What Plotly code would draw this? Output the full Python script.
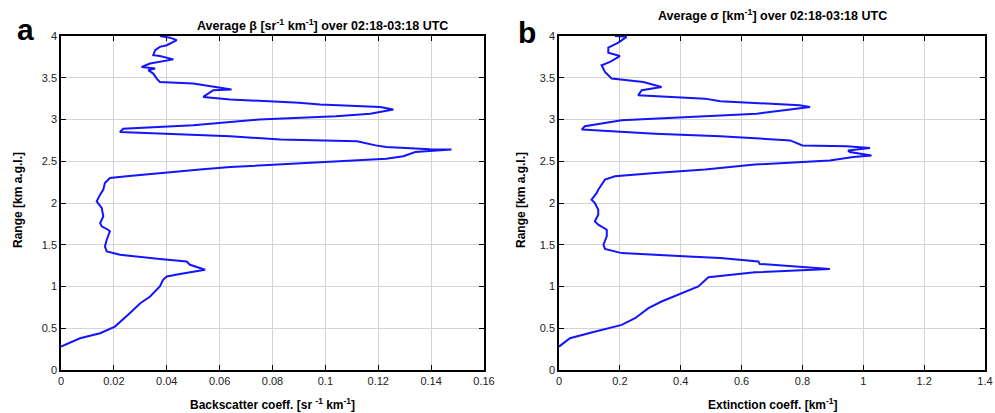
import plotly.graph_objects as go

# Panel a: average backscatter coefficient [sr^-1 km^-1] vs range [km]
beta_x = [0.0, 0.0072, 0.0148, 0.0204, 0.026, 0.030, 0.0337, 0.0374, 0.0386, 0.040, 0.045, 0.0545,
          0.0488, 0.0475, 0.0374, 0.0223, 0.0173, 0.0166, 0.0173, 0.0185, 0.0178, 0.0154, 0.0148,
          0.016, 0.0154, 0.0135, 0.0148, 0.016, 0.0166, 0.0185, 0.0248, 0.0374, 0.0526, 0.064,
          0.1017, 0.123, 0.1295, 0.134, 0.1477, 0.1396, 0.123, 0.119, 0.112, 0.083, 0.064, 0.0223,
          0.0235, 0.05, 0.075, 0.104, 0.117, 0.1257, 0.1207, 0.098, 0.090, 0.064, 0.0538, 0.0576,
          0.0645, 0.055, 0.050, 0.0374, 0.0362, 0.0349, 0.033, 0.0356, 0.0305, 0.0337, 0.0425,
          0.0374, 0.0349, 0.0356, 0.0374, 0.040, 0.0438, 0.0412, 0.0374]
beta_y = [0.28, 0.38, 0.44, 0.52, 0.68, 0.80, 0.88, 1.00, 1.08, 1.12, 1.15, 1.20,
          1.26, 1.30, 1.33, 1.38, 1.42, 1.48, 1.56, 1.66, 1.68, 1.72, 1.76,
          1.84, 1.94, 2.02, 2.10, 2.16, 2.24, 2.30, 2.32, 2.36, 2.40, 2.43,
          2.49, 2.53, 2.56, 2.61, 2.64, 2.645, 2.67, 2.69, 2.74, 2.76, 2.80, 2.85,
          2.89, 2.93, 3.00, 3.04, 3.07, 3.12, 3.15, 3.18, 3.20, 3.24, 3.27, 3.35,
          3.36, 3.41, 3.43, 3.45, 3.49, 3.55, 3.59, 3.61, 3.63, 3.67, 3.72,
          3.76, 3.77, 3.83, 3.87, 3.89, 3.95, 3.98, 4.0]

# Panel b: average extinction coefficient [km^-1] vs range [km]
sigma_x = [0.0, 0.036, 0.107, 0.206, 0.25, 0.294, 0.337, 0.392, 0.458, 0.491, 0.644, 0.89,
           0.66, 0.655, 0.53, 0.425, 0.206, 0.151, 0.146, 0.157, 0.157, 0.129, 0.118, 0.129,
           0.129, 0.118, 0.107, 0.124, 0.129, 0.151, 0.184, 0.315, 0.48, 0.644, 0.89, 0.967,
           1.027, 0.956, 0.95, 1.022, 0.945, 0.80, 0.76, 0.53, 0.315, 0.075, 0.085, 0.206,
           0.425, 0.65, 0.825, 0.79, 0.53, 0.48, 0.26, 0.272, 0.337, 0.294, 0.277, 0.173,
           0.151, 0.140, 0.168, 0.2, 0.162, 0.162, 0.195, 0.222, 0.184]
sigma_y = [0.28, 0.38, 0.45, 0.54, 0.62, 0.74, 0.82, 0.90, 1.00, 1.11, 1.17, 1.21,
           1.27, 1.30, 1.34, 1.36, 1.40, 1.45, 1.50, 1.60, 1.68, 1.74, 1.78, 1.86,
           1.92, 2.00, 2.04, 2.12, 2.16, 2.28, 2.32, 2.36, 2.40, 2.46, 2.51, 2.55,
           2.57, 2.61, 2.63, 2.66, 2.68, 2.69, 2.75, 2.80, 2.83, 2.88, 2.92, 2.99,
           3.03, 3.07, 3.15, 3.17, 3.22, 3.25, 3.29, 3.35, 3.39, 3.43, 3.45, 3.49,
           3.57, 3.65, 3.69, 3.76, 3.80, 3.86, 3.92, 3.99, 4.0]

beta_ticks = [0, 0.02, 0.04, 0.06, 0.08, 0.1, 0.12, 0.14, 0.16]
beta_ticklabels = ["0", "0.02", "0.04", "0.06", "0.08", "0.1", "0.12", "0.14", "0.16"]
sigma_ticks = [0, 0.2, 0.4, 0.6, 0.8, 1.0, 1.2, 1.4]
sigma_ticklabels = ["0", "0.2", "0.4", "0.6", "0.8", "1", "1.2", "1.4"]
range_ticks = [0, 0.5, 1, 1.5, 2, 2.5, 3, 3.5, 4]
range_ticklabels = ["0", "0.5", "1", "1.5", "2", "2.5", "3", "3.5", "4"]

W, H = 995, 413
FONT = "Liberation Sans, Arial, sans-serif"
LINE = "#1414ff"

fig = go.Figure()
fig.add_trace(go.Scatter(x=beta_x, y=beta_y, mode="lines", xaxis="x", yaxis="y",
                         line=dict(color=LINE, width=2), showlegend=False))
fig.add_trace(go.Scatter(x=sigma_x, y=sigma_y, mode="lines", xaxis="x2", yaxis="y2",
                         line=dict(color=LINE, width=2), showlegend=False))

ydom = [1 - 370 / H, 1 - 36 / H]
common_ax = dict(showline=True, mirror="ticks", linecolor="black", linewidth=1.5,
                 ticks="inside", ticklen=5, tickcolor="black", showgrid=True,
                 gridcolor="#d4d4d4", gridwidth=1, zeroline=False, automargin=False,
                 tickfont=dict(family=FONT, size=11, color="#222"))

fig.update_layout(
    width=W, height=H, margin=dict(l=0, r=0, t=0, b=0, autoexpand=False),
    paper_bgcolor="white", plot_bgcolor="white",
    xaxis=dict(domain=[61 / W, 484 / W], range=[0, 0.16], tickvals=beta_ticks,
               ticktext=beta_ticklabels, anchor="y", **common_ax),
    yaxis=dict(domain=ydom, range=[0, 4], tickvals=range_ticks, ticktext=range_ticklabels,
               anchor="x", **common_ax),
    xaxis2=dict(domain=[559 / W, 985 / W], range=[0, 1.4], tickvals=sigma_ticks,
                ticktext=sigma_ticklabels, anchor="y2", **common_ax),
    yaxis2=dict(domain=ydom, range=[0, 4], tickvals=range_ticks, ticktext=range_ticklabels,
                anchor="x2", **common_ax),
)

def ann(text, x, y, size, angle=0, bold=True):
    fig.add_annotation(text=text, x=x / W, y=1 - y / H, xref="paper", yref="paper",
                       showarrow=False, textangle=angle, xanchor="center", yanchor="middle",
                       font=dict(family=FONT, size=size, color="black",
                                 weight="bold" if bold else "normal"))

ann("Average β [sr<sup>-1</sup> km<sup>-1</sup>] over 02:18-03:18 UTC", 322, 25, 12.5)
ann("Average σ [km<sup>-1</sup>] over 02:18-03:18 UTC", 772, 15, 12.5)
ann("Backscatter coeff. [sr <sup>-1</sup> km<sup>-1</sup>]", 272, 404, 12)
ann("Extinction coeff. [km<sup>-1</sup>]", 772, 404, 12)
ann("Range [km a.g.l.]", 18, 200, 12, angle=-90)
ann("Range [km a.g.l.]", 521, 200, 12, angle=-90)
ann("a", 25, 30, 30)
ann("b", 527, 32, 30)

fig.write_html("out.html")
